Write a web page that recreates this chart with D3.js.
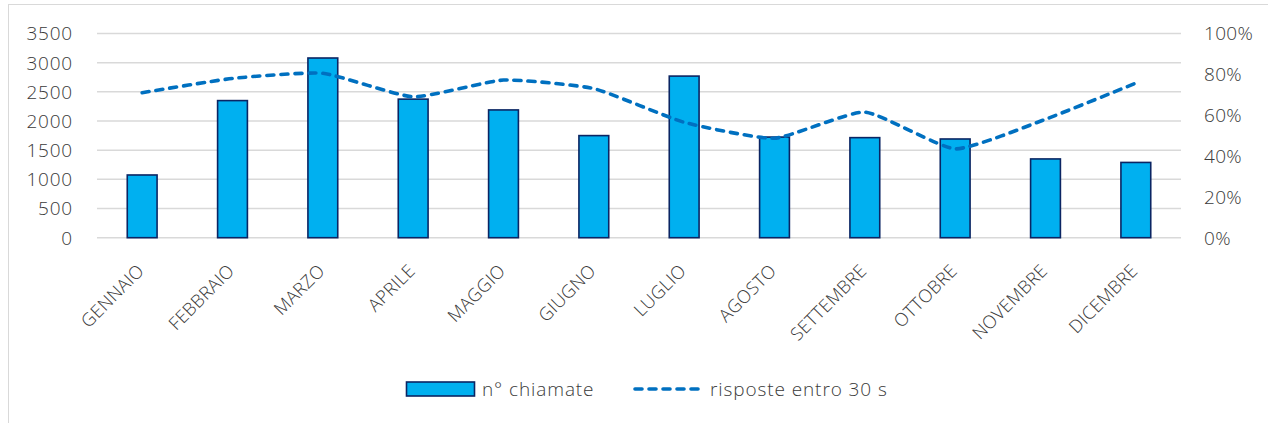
<!DOCTYPE html>
<html>
<head>
<meta charset="utf-8">
<script src="https://cdn.jsdelivr.net/npm/d3@7"></script>
<style>
  html, body { margin: 0; padding: 0; background: #fff; }
  svg { display: block; }
  text { font-family: "Segoe UI", "Open Sans", "Lato", sans-serif; fill: #3a3a3a; font-weight: 300; }
</style>
</head>
<body>
<svg id="chart" width="1268" height="423"></svg>
<script>
const months = ["GENNAIO","FEBBRAIO","MARZO","APRILE","MAGGIO","GIUGNO","LUGLIO","AGOSTO","SETTEMBRE","OTTOBRE","NOVEMBRE","DICEMBRE"];
const chiamate = [1075, 2350, 3080, 2375, 2190, 1750, 2770, 1725, 1715, 1692, 1350, 1290];
const risposte = [0.71, 0.78, 0.805, 0.69, 0.772, 0.73, 0.565, 0.487, 0.615, 0.435, 0.58, 0.757];
const leftTicks = [0, 500, 1000, 1500, 2000, 2500, 3000, 3500];
const rightTicks = [0, 0.2, 0.4, 0.6, 0.8, 1.0];
const seriesNames = ["n° chiamate", "risposte entro 30 s"];

const svg = d3.select("#chart");

// chart border
svg.append("rect").attr("x", 8.5).attr("y", 4.5).attr("width", 1300).attr("height", 500)
  .attr("fill", "#fff").attr("stroke", "#d9d9d9").attr("stroke-width", 1);

const x = d3.scaleBand().domain(months).range([97, 1181]).padding(0);
const yL = d3.scaleLinear().domain([0, 3500]).range([237.7, 33.5]);
const yR = d3.scaleLinear().domain([0, 1]).range([237.7, 33.5]);

// gridlines
svg.append("g").selectAll("line").data(leftTicks).join("line")
  .attr("x1", 97).attr("x2", 1181)
  .attr("y1", d => yL(d)).attr("y2", d => yL(d))
  .attr("stroke", "#d9d9d9").attr("stroke-width", 1.5);

// left axis labels
svg.append("g").selectAll("text").data(leftTicks).join("text")
  .attr("x", 73).attr("y", d => yL(d)).attr("dy", "0.36em")
  .attr("text-anchor", "end").attr("font-size", 19).attr("letter-spacing", 0.8)
  .text(d => d);

// right axis labels
const pct = d3.format(".0%");
svg.append("g").selectAll("text").data(rightTicks).join("text")
  .attr("x", 1204).attr("y", d => yR(d)).attr("dy", "0.36em")
  .attr("text-anchor", "start").attr("font-size", 19).attr("letter-spacing", 0.3)
  .text(d => pct(d));

// bars
const barW = x.bandwidth() * 0.33;
svg.append("g").selectAll("rect").data(months).join("rect")
  .attr("x", (d) => x(d) + x.bandwidth() / 2 - barW / 2)
  .attr("y", (d, i) => yL(chiamate[i]))
  .attr("width", barW)
  .attr("height", (d, i) => yL(0) - yL(chiamate[i]))
  .attr("fill", "#00b0f0").attr("stroke", "#0b2563").attr("stroke-width", 1.6);

// line
const line = d3.line()
  .x((d, i) => x(months[i]) + x.bandwidth() / 2)
  .y(d => yR(d))
  .curve(d3.curveCardinal.tension(0.5));
svg.append("path").datum(risposte).attr("d", line)
  .attr("fill", "none").attr("stroke", "#0070c0").attr("stroke-width", 3.6)
  .attr("stroke-dasharray", "7 7").attr("stroke-linecap", "round");

// x labels
svg.append("g").selectAll("text").data(months).join("text")
  .attr("transform", d => `translate(${x(d) + x.bandwidth() / 2 + 3},272) rotate(-45)`)
  .attr("text-anchor", "end").attr("font-size", 18).attr("letter-spacing", 0.3)
  .text(d => d);

// legend
const lg = svg.append("g");
lg.append("rect").attr("x", 406.5).attr("y", 382).attr("width", 68).attr("height", 14)
  .attr("fill", "#00b0f0").attr("stroke", "#0b2563").attr("stroke-width", 1.6);
lg.append("text").attr("x", 482).attr("y", 389).attr("dy", "0.36em")
  .attr("font-size", 19).attr("letter-spacing", 0.9).text(seriesNames[0]);
lg.append("line").attr("x1", 635).attr("x2", 702).attr("y1", 389).attr("y2", 389)
  .attr("stroke", "#0070c0").attr("stroke-width", 3.6)
  .attr("stroke-dasharray", "7 7").attr("stroke-linecap", "round");
lg.append("text").attr("x", 710).attr("y", 389).attr("dy", "0.36em")
  .attr("font-size", 19).attr("letter-spacing", 0.9).text(seriesNames[1]);
</script>
</body>
</html>
